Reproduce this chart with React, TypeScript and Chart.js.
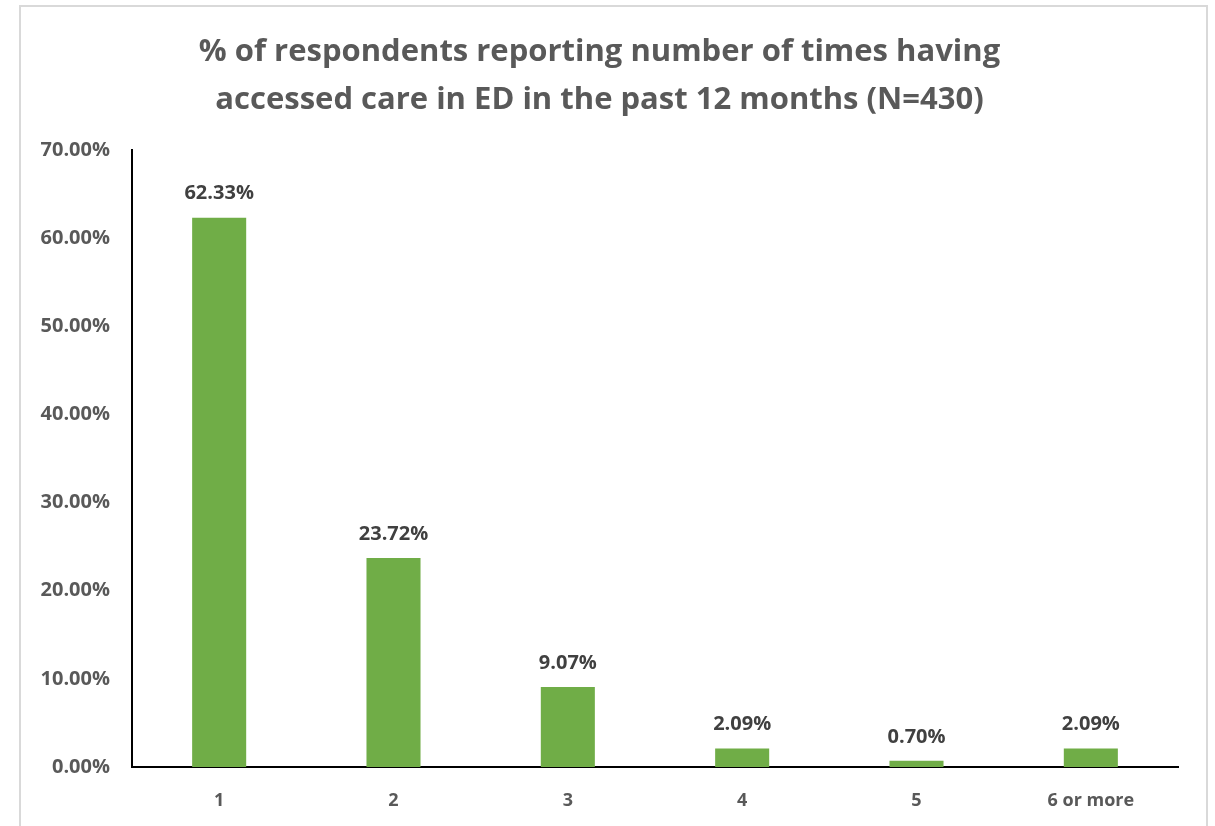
import React, { useEffect, useRef } from "react";
import { Chart, registerables } from "chart.js";

Chart.register(...registerables);

const categories = ["1", "2", "3", "4", "5", "6 or more"];
const percentValues = [62.33, 23.72, 9.07, 2.09, 0.7, 2.09];
const titleLines = [
  "% of respondents reporting number of times having",
  "accessed care in ED in the past 12 months (N=430)",
];
const yMax = 70;
const yStep = 10;

const FONT = "'Open Sans', Lato, sans-serif";

const dataLabelPlugin = {
  id: "dataLabels",
  afterDatasetsDraw(chart: any) {
    const ctx = chart.ctx;
    const meta = chart.getDatasetMeta(0);
    ctx.save();
    ctx.font = `bold 20px ${FONT}`;
    ctx.fillStyle = "#404040";
    ctx.textAlign = "center";
    ctx.textBaseline = "middle";
    meta.data.forEach((bar: any, i: number) => {
      const v = chart.data.datasets[0].data[i] as number;
      ctx.fillText(v.toFixed(2) + "%", bar.x, bar.y - 24);
    });
    ctx.restore();
  },
};

export default function App() {
  const ref = useRef<HTMLCanvasElement>(null);
  useEffect(() => {
    if (!ref.current) return;
    const chart = new Chart(ref.current, {
      type: "bar",
      data: {
        labels: categories,
        datasets: [
          {
            data: percentValues,
            backgroundColor: "#70AD47",
            borderWidth: 0,
            categoryPercentage: 1,
            barPercentage: 0.31,
          },
        ],
      },
      options: {
        responsive: false,
        animation: false,
        layout: { padding: { left: 0, right: 28, top: 0, bottom: 0 } },
        plugins: {
          legend: { display: false },
          tooltip: { enabled: false },
          title: {
            display: true,
            text: titleLines,
            color: "#595959",
            font: { family: FONT, size: 31, weight: "bold", lineHeight: 1.55 },
            padding: { top: 21, bottom: 26 },
          },
        },
        scales: {
          x: {
            grid: { display: false, drawTicks: false },
            border: { display: true, color: "#000000", width: 2 },
            ticks: {
              color: "#595959",
              font: { family: FONT, size: 18, weight: "bold" },
              padding: 23,
            },
            afterFit(scale: any) {
              scale.height = 67;
            },
          },
          y: {
            min: 0,
            max: yMax,
            grid: { display: false, drawTicks: false },
            border: { display: true, color: "#000000", width: 2 },
            ticks: {
              stepSize: yStep,
              color: "#595959",
              font: { family: FONT, size: 20, weight: "bold" },
              padding: 22,
              callback: (v: any) => Number(v).toFixed(2) + "%",
            },
            afterFit(scale: any) {
              scale.width = 111;
            },
          },
        },
      },
      plugins: [dataLabelPlugin],
    });
    return () => chart.destroy();
  }, []);
  return (
    <div
      style={{
        position: "absolute",
        left: 19,
        top: 5,
        width: 1189,
        height: 831,
        boxSizing: "border-box",
        border: "2px solid #d9d9d9",
        background: "#ffffff",
      }}
    >
      <canvas ref={ref} width={1185} height={827} style={{ display: "block" }} />
    </div>
  );
}
